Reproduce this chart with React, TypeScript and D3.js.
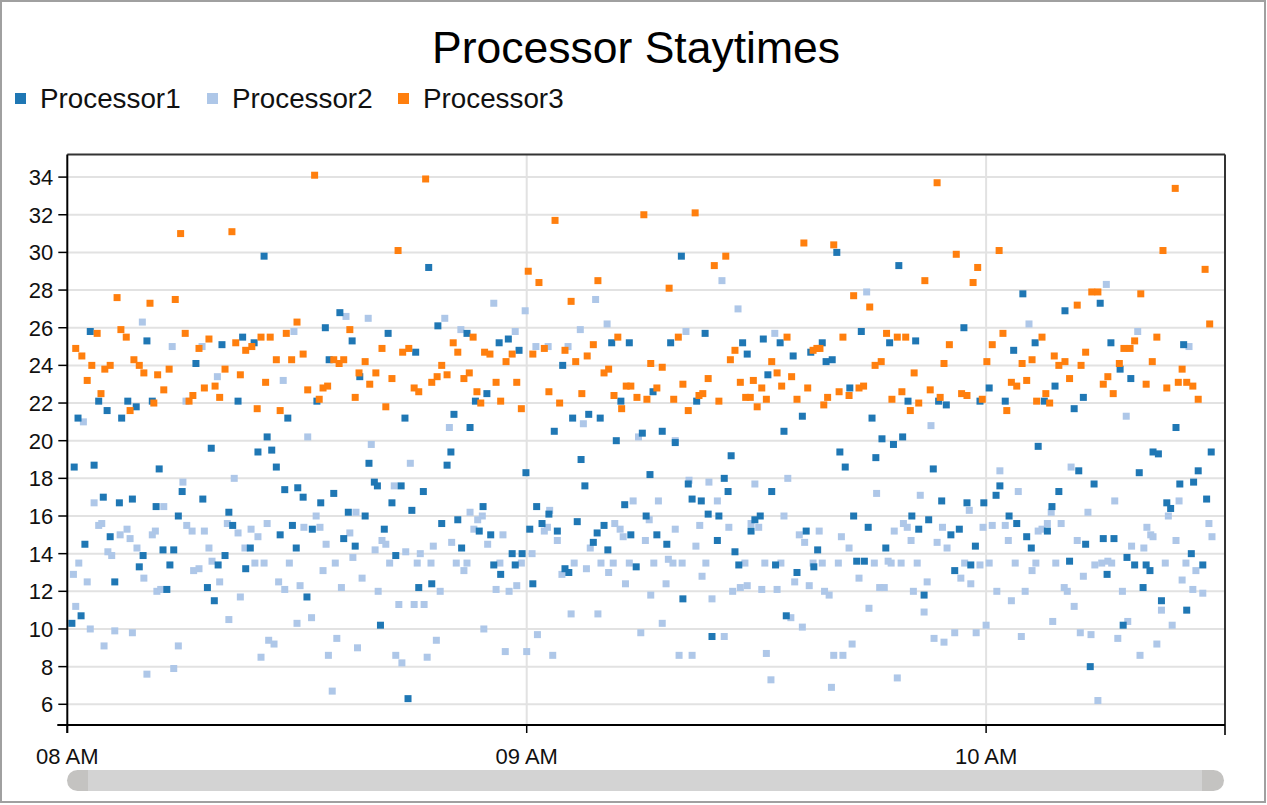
import React from 'react';
import * as d3 from 'd3';

// minutes after 08:00, staytime
const processor1: [number, number][] = [
  [0.6,10.3],[0.9,18.6],[1.4,21.2],[1.8,10.7],[2.3,14.5],[3.0,25.8],[3.5,18.7],[4.1,22.1],[4.7,17.0],[5.2,21.6],
  [5.6,14.9],[6.2,12.5],[6.8,16.7],[7.1,21.2],[7.9,22.1],[8.5,16.9],[9.0,21.8],[9.4,13.3],[9.9,13.9],[10.4,25.3],
  [11.1,22.1],[11.6,16.5],[12.0,18.5],[12.5,14.2],[13.0,12.1],[13.4,13.4],[13.9,14.2],[14.5,16.0],[15.0,17.3],[16.8,24.1],
  [17.7,16.9],[18.3,12.2],[18.8,19.6],[19.2,11.5],[19.7,13.4],[20.2,25.1],[20.6,13.9],[21.1,16.2],[21.6,15.5],[22.3,22.1],
  [22.9,25.5],[23.3,13.2],[23.9,14.3],[24.4,25.2],[24.9,19.4],[25.7,29.8],[26.1,20.2],[26.7,19.5],[27.3,18.6],[27.8,15.0],
  [28.4,17.4],[28.8,21.2],[29.4,15.5],[29.9,14.3],[30.1,17.5],[30.8,17.0],[31.3,11.7],[32.0,15.3],[32.6,22.1],[33.1,16.7],
  [33.7,26.0],[34.2,24.3],[34.8,17.2],[35.6,26.8],[36.1,14.8],[36.7,16.2],[37.2,25.3],[37.6,14.4],[38.2,23.4],[38.9,16.0],
  [39.4,18.8],[40.1,17.8],[40.5,17.6],[40.9,10.2],[41.4,15.3],[41.9,25.7],[42.4,16.7],[42.9,13.9],[43.6,17.6],[44.1,21.2],
  [44.5,6.3],[45.0,16.3],[45.5,24.7],[45.9,12.2],[46.5,17.3],[47.2,29.2],[47.6,12.4],[48.4,26.1],[48.9,15.6],[49.6,18.7],
  [50.1,19.4],[50.5,21.4],[51.0,15.8],[51.5,14.3],[52.2,25.7],[52.6,20.7],[53.3,22.1],[53.8,15.2],[54.3,16.5],[54.8,22.5],
  [55.3,15.0],[55.7,13.4],[56.4,25.2],[56.6,12.9],[57.6,25.4],[58.1,14.0],[58.5,13.4],[59.0,24.8],[59.4,14.0],[59.9,18.3],
  [60.4,15.3],[60.8,12.4],[61.3,16.5],[62.0,15.6],[62.9,16.1],[63.6,20.5],[64.0,15.2],[64.7,24.0],[65.0,13.2],[65.5,13.0],
  [66.0,21.2],[66.6,15.7],[67.1,19.0],[67.6,17.6],[68.1,21.4],[68.7,14.6],[69.2,15.1],[69.6,21.2],[70.1,15.5],[70.6,14.2],
  [71.1,25.2],[71.7,20.0],[72.3,22.1],[72.8,16.6],[73.4,25.2],[73.6,15.0],[74.3,13.3],[75.1,20.4],[75.6,16.0],[76.1,18.2],
  [76.5,22.6],[77.0,15.0],[77.7,20.5],[78.3,14.5],[78.8,25.2],[79.4,19.9],[80.2,29.8],[80.4,11.6],[81.1,17.7],[81.6,16.9],
  [82.2,22.1],[82.8,16.8],[83.3,25.7],[83.7,16.1],[84.2,9.6],[84.9,14.7],[85.1,16.0],[85.8,18.0],[86.3,17.3],[86.7,19.2],
  [87.2,14.1],[87.7,13.4],[88.2,25.2],[88.8,24.6],[89.3,15.2],[89.8,15.8],[90.5,16.0],[90.9,25.4],[91.5,23.5],[92.0,17.3],
  [92.5,13.4],[93.1,25.2],[93.6,20.5],[93.9,10.7],[94.8,24.5],[95.3,13.0],[96.0,21.3],[96.5,15.2],[97.1,24.7],[97.5,13.3],
  [98.0,14.2],[98.6,25.2],[99.1,24.2],[99.9,24.3],[100.5,30.0],[100.9,19.4],[101.6,18.6],[102.2,22.8],[102.7,16.0],[103.1,13.6],
  [103.7,25.8],[104.1,13.6],[104.6,15.4],[105.1,21.2],[105.6,19.1],[106.4,20.1],[106.9,14.3],[107.4,25.2],[107.9,19.8],[108.6,29.3],
  [109.1,20.2],[109.8,22.1],[110.3,16.0],[110.8,25.3],[111.2,15.3],[111.9,11.8],[112.5,15.8],[113.1,18.5],[113.8,22.1],[114.2,16.8],
  [114.8,21.9],[115.4,15.0],[115.9,13.1],[116.5,15.3],[117.1,26.0],[117.5,16.7],[118.0,13.4],[118.6,14.4],[119.2,22.1],[119.7,16.7],
  [120.4,22.8],[121.3,17.1],[121.8,17.6],[122.5,22.1],[123.0,16.0],[123.6,24.8],[124.0,15.6],[124.8,27.8],[125.3,14.9],[125.9,14.3],
  [126.4,25.2],[126.8,19.7],[127.6,22.1],[128.0,15.2],[128.6,16.5],[129.0,22.9],[129.5,17.3],[130.3,26.9],[130.9,13.6],[131.5,21.7],
  [132.1,18.4],[132.7,22.3],[133.0,14.5],[133.6,8.0],[134.1,17.7],[134.9,27.3],[135.3,14.8],[135.8,12.9],[136.3,25.2],[136.7,14.8],
  [137.5,23.8],[137.9,10.2],[138.4,13.8],[138.9,23.3],[139.4,13.4],[140.0,18.3],[140.5,12.2],[140.9,13.4],[141.4,13.1],[141.8,19.4],
  [142.5,19.3],[142.9,11.5],[143.6,16.7],[144.1,16.4],[144.8,20.7],[145.3,17.7],[145.8,25.1],[146.2,11.0],[146.8,14.0],[147.1,17.8],
  [147.7,18.4],[148.3,13.4],[148.8,16.9],[149.4,19.4]
];

const processor2: [number, number][] = [
  [0.8,12.9],[1.1,11.2],[1.5,13.5],[2.1,21.0],[2.6,12.5],[3.0,10.0],[3.5,16.7],[4.1,15.5],[4.5,15.6],[4.8,9.1],
  [5.3,14.1],[5.8,13.9],[6.2,9.9],[6.9,15.0],[7.8,15.3],[8.2,14.8],[8.5,9.8],[9.1,14.3],[9.8,26.3],[10.0,12.7],
  [10.4,7.6],[11.1,15.0],[11.5,15.2],[11.7,12.0],[12.2,12.1],[12.6,16.5],[13.7,25.0],[13.9,7.9],[14.5,9.1],[15.1,17.8],
  [15.5,22.1],[15.6,15.5],[16.3,15.2],[16.5,13.1],[17.2,13.2],[17.6,25.0],[17.9,15.2],[18.5,14.3],[18.9,13.6],[19.6,23.4],
  [19.9,12.5],[20.9,15.6],[21.1,10.5],[21.8,18.0],[22.3,15.1],[22.6,11.7],[23.2,14.3],[24.0,15.3],[24.5,13.5],[24.9,14.9],
  [25.3,8.5],[25.7,13.5],[26.1,15.6],[26.3,9.4],[27.0,9.2],[27.6,12.5],[28.2,23.2],[28.4,12.1],[29.0,13.5],[29.6,25.8],
  [30.0,10.3],[30.4,12.3],[30.9,15.4],[31.4,20.2],[31.9,10.6],[32.5,16.0],[33.0,15.4],[33.4,13.1],[33.8,14.5],[34.1,8.6],
  [34.6,6.7],[35.0,13.5],[35.2,9.5],[35.8,12.2],[36.4,26.6],[36.9,15.1],[37.3,13.8],[37.7,16.2],[37.9,9.0],[38.5,12.7],
  [39.3,26.5],[39.7,19.8],[40.2,14.2],[40.6,12.0],[41.1,14.7],[41.6,14.5],[42.1,13.5],[42.7,17.6],[42.9,8.6],[43.3,11.3],
  [43.7,8.2],[44.2,14.1],[44.8,18.8],[45.3,11.3],[45.7,13.5],[46.1,14.0],[46.6,11.3],[47.0,8.5],[47.5,13.5],[47.8,14.4],
  [48.2,9.4],[48.7,12.0],[49.3,26.5],[49.9,20.7],[50.2,14.6],[50.8,13.5],[51.4,25.9],[51.8,13.1],[52.2,13.5],[52.6,16.2],
  [53.1,15.3],[53.6,15.8],[54.2,16.0],[54.4,10.0],[54.9,14.5],[55.7,27.3],[56.0,12.1],[56.5,13.5],[56.9,15.0],[57.2,8.8],
  [57.7,12.0],[58.5,25.8],[58.7,12.3],[59.3,13.5],[59.8,26.9],[60.0,8.8],[60.7,14.0],[61.2,25.0],[61.4,9.7],[62.3,15.2],
  [62.7,15.4],[62.8,25.0],[63.0,16.3],[63.4,8.6],[64.0,14.7],[64.6,12.9],[65.4,25.0],[65.8,10.8],[66.2,13.5],[67.0,25.9],
  [67.4,20.9],[67.8,13.2],[68.3,14.3],[69.0,27.5],[69.3,10.8],[69.7,13.5],[70.5,26.2],[70.7,13.0],[71.3,13.5],[71.5,15.6],
  [72.2,15.3],[72.6,14.9],[72.9,12.4],[73.4,13.5],[73.9,16.8],[74.6,20.2],[74.9,9.8],[75.5,14.7],[76.0,15.8],[76.2,11.8],
  [76.6,13.5],[77.2,16.8],[77.7,10.3],[78.2,12.4],[78.5,13.7],[79.1,13.5],[79.4,20.0],[79.4,15.3],[79.9,8.6],[80.3,13.5],
  [80.8,25.8],[81.2,17.9],[81.6,8.6],[82.1,14.4],[82.6,15.5],[82.9,12.8],[83.4,13.5],[83.8,17.8],[84.2,11.6],[84.9,16.8],
  [85.5,28.5],[85.8,9.6],[86.4,15.4],[86.9,12.0],[87.6,27.0],[87.9,12.2],[88.5,13.5],[88.8,12.3],[89.3,15.6],[89.8,17.7],
  [90.3,15.4],[90.7,12.1],[91.1,13.5],[91.3,8.7],[91.9,7.3],[92.4,25.7],[92.7,12.1],[93.2,13.5],[93.6,16.0],[94.1,18.0],
  [94.5,10.6],[95.0,12.5],[95.6,15.0],[96.0,10.1],[96.3,14.6],[96.9,12.3],[97.4,13.5],[98.2,15.2],[98.6,13.5],[98.9,12.0],
  [99.5,11.8],[99.8,6.9],[100.1,8.6],[100.7,13.5],[101.1,14.9],[101.3,8.6],[102.1,14.3],[102.5,9.2],[103.4,12.7],[104.4,27.9],
  [104.7,11.1],[105.4,13.5],[105.7,17.2],[106.1,12.2],[106.7,12.2],[107.2,13.6],[107.6,13.5],[108.0,15.2],[108.4,7.4],[108.9,13.5],
  [109.2,15.6],[109.7,15.4],[110.2,14.7],[110.5,12.0],[111.0,13.5],[111.4,17.1],[111.9,10.9],[112.3,12.5],[112.8,20.8],[113.2,9.5],
  [113.6,14.6],[114.3,15.4],[114.5,9.3],[114.9,14.3],[115.9,9.8],[116.7,12.7],[117.2,13.5],[117.8,16.3],[118.0,12.4],[118.7,9.8],
  [119.2,13.4],[119.6,15.4],[120.0,10.2],[120.4,13.5],[120.8,15.5],[121.4,12.0],[121.8,18.4],[122.5,15.5],[122.9,14.7],[123.3,11.5],
  [123.8,13.5],[124.2,17.3],[124.6,9.6],[125.1,12.0],[125.6,26.2],[126.0,13.1],[126.5,13.5],[126.8,15.2],[127.3,15.3],[128.0,15.6],
  [128.5,16.2],[128.7,10.4],[129.1,13.5],[129.8,15.6],[130.2,12.2],[130.6,12.0],[131.1,18.6],[131.5,11.2],[131.9,14.7],[132.3,9.8],
  [132.7,12.8],[133.3,16.2],[133.7,9.7],[134.2,13.4],[134.6,6.2],[135.1,13.5],[135.7,28.3],[135.9,13.6],[136.4,13.5],[136.8,16.8],
  [137.2,9.5],[137.8,12.0],[138.3,21.3],[138.5,10.4],[139.0,14.4],[139.8,25.8],[140.1,8.6],[140.6,14.3],[141.0,15.4],[141.5,15.0],
  [141.8,14.9],[142.3,9.2],[142.9,11.0],[143.4,13.5],[143.8,16.0],[144.3,10.2],[144.8,14.7],[145.2,16.8],[145.6,12.6],[146.1,13.5],
  [146.5,25.0],[147.0,12.1],[147.4,13.1],[148.3,11.9],[149.1,15.6],[149.5,14.9]
];

const processor3: [number, number][] = [
  [1.1,24.9],[1.9,24.5],[2.6,23.2],[3.2,24.0],[3.9,25.7],[4.4,22.5],[4.9,23.8],[5.6,24.0],[6.5,27.6],[7.0,25.9],
  [7.7,25.5],[8.2,21.6],[8.7,24.3],[9.4,24.0],[10.0,23.6],[10.8,27.3],[11.3,22.0],[11.8,23.5],[12.6,22.7],[13.3,23.8],
  [14.1,27.5],[14.8,31.0],[15.4,25.7],[15.9,22.1],[16.4,22.4],[17.2,24.9],[17.9,22.8],[18.5,25.4],[19.3,22.9],[19.9,22.3],
  [20.6,23.8],[21.5,31.1],[22.0,25.2],[22.6,23.5],[23.3,24.8],[24.1,25.0],[24.8,21.7],[25.3,25.5],[25.9,23.1],[26.5,25.5],
  [27.3,24.3],[27.8,21.6],[28.6,25.7],[29.3,24.3],[30.0,26.3],[30.8,24.6],[31.4,22.7],[32.3,34.1],[32.9,22.2],[33.4,22.8],
  [34.0,22.9],[34.8,24.3],[35.5,24.1],[36.1,24.3],[36.9,25.9],[37.6,22.3],[38.1,23.6],[38.9,24.2],[39.5,23.0],[40.3,23.6],
  [41.1,24.9],[41.6,21.8],[42.4,23.3],[43.2,30.1],[43.8,24.7],[44.6,24.9],[45.3,22.8],[45.9,22.6],[46.8,33.9],[47.6,23.1],
  [48.3,23.4],[48.9,24.0],[49.6,23.5],[50.4,25.2],[51.0,24.7],[51.8,23.3],[52.5,23.6],[53.0,25.5],[53.5,22.6],[54.0,22.0],
  [54.5,24.7],[55.2,24.6],[56.0,23.1],[56.6,22.1],[57.3,24.2],[58.1,24.6],[58.7,23.1],[59.3,21.7],[60.2,29.0],[60.8,24.6],
  [61.6,28.4],[62.3,24.9],[62.9,22.6],[63.7,31.7],[64.3,22.0],[65.0,24.8],[65.8,27.4],[66.4,24.2],[67.2,22.5],[67.9,24.5],
  [68.7,25.1],[69.3,28.5],[70.1,23.6],[70.7,23.8],[71.4,22.4],[71.9,25.5],[72.4,21.7],[73.0,22.9],[73.6,22.9],[74.4,22.3],
  [75.3,32.0],[75.7,22.2],[76.2,24.1],[77.0,22.8],[77.7,23.9],[78.6,28.1],[79.2,22.2],[79.8,25.5],[80.4,23.0],[81.1,21.6],
  [82.0,32.1],[82.5,22.4],[83.0,22.5],[83.7,23.3],[84.5,29.3],[85.1,22.1],[86.0,29.8],[86.6,24.3],[87.2,24.8],[87.9,23.1],
  [88.6,22.3],[89.2,22.3],[89.6,23.2],[90.1,21.8],[90.7,22.8],[91.3,22.2],[92.0,24.2],[92.7,23.6],[93.3,22.9],[94.0,25.5],
  [94.6,23.4],[95.3,22.2],[96.2,30.5],[96.7,22.8],[97.4,24.8],[97.9,24.9],[98.3,24.9],[98.8,21.9],[99.3,22.3],[100.1,30.4],
  [100.8,22.6],[101.3,25.5],[102.1,22.4],[102.7,27.7],[103.4,22.8],[104.0,22.9],[104.8,27.1],[105.5,24.0],[106.3,24.2],[107.0,25.7],
  [107.7,22.2],[108.4,25.5],[109.0,22.6],[109.5,25.5],[110.1,21.6],[110.6,23.6],[111.2,22.0],[112.0,28.5],[112.7,22.7],[113.6,33.7],
  [114.0,22.3],[114.5,24.1],[115.2,25.1],[116.1,29.9],[116.8,22.5],[117.5,22.4],[118.3,28.4],[118.9,29.2],[119.5,22.2],[120.1,24.2],
  [120.8,25.1],[121.7,30.1],[122.2,25.7],[122.7,21.6],[123.3,23.1],[124.0,22.9],[124.7,24.1],[125.3,23.2],[126.0,24.3],[126.6,22.1],
  [127.3,25.5],[127.8,22.5],[128.3,22.0],[128.9,24.5],[129.5,24.0],[130.3,24.2],[130.9,23.3],[131.9,27.2],[132.4,24.0],[133.0,24.7],
  [133.8,27.9],[134.6,27.9],[135.3,23.0],[135.9,23.4],[136.6,22.5],[137.4,24.1],[138.0,24.9],[138.8,24.9],[139.4,25.3],[140.2,27.8],
  [140.9,23.0],[141.7,24.2],[142.3,25.5],[143.1,30.1],[143.6,22.8],[144.7,33.4],[145.1,23.1],[145.6,23.8],[146.2,23.1],[147.0,22.9],
  [147.7,22.2],[148.6,29.1],[149.2,26.2]
];

const seriesNames = ['Processor1', 'Processor2', 'Processor3'];
const seriesColors = ['#1f77b4', '#aec7e8', '#ff7f0e'];
const yTicks = [6, 8, 10, 12, 14, 16, 18, 20, 22, 24, 26, 28, 30, 32, 34];
const title = 'Processor Staytimes';

const W = 1267;
const H = 805;
const font = '"Liberation Sans", Arial, sans-serif';

const day = (m: number) => new Date(2020, 0, 1, 8, 0, Math.round(m * 60));

export default function App() {
  const x = d3.scaleTime().domain([day(0), day(151.2)]).range([67.3, 1225]);
  const y = d3.scaleLinear().domain([4.9, 35.2]).range([725, 154.5]);
  const [x0, x1] = x.range();
  const [yb, yt] = y.range();
  const hours = x.ticks(d3.timeHour.every(1) as d3.TimeInterval);
  const fmt = d3.timeFormat('%I %p');
  const sq = 7;

  const series = [processor1, processor2, processor3];
  const drawOrder = [1, 0, 2];
  const legendX = [15, 207, 398];

  return (
    <svg width={W} height={H} style={{ position: 'absolute', left: 0, top: 0, background: '#fff' }} fontFamily={font}>
      <rect x={1} y={1} width={W - 3} height={H - 4} fill="#fff" stroke="#a0a0a0" strokeWidth={2} />
      <text x={636} y={63} textAnchor="middle" fontSize={44.5} fill="#000">{title}</text>

      {seriesNames.map((n, i) => (
        <g key={n}>
          <rect x={legendX[i]} y={93} width={11} height={11} fill={seriesColors[i]} />
          <text x={legendX[i] + 25} y={108} fontSize={27.8} fill="#111">{n}</text>
        </g>
      ))}

      {yTicks.map(t => (
        <line key={'g' + t} x1={x0} x2={x1} y1={y(t)} y2={y(t)} stroke="#e2e2e2" strokeWidth={2} />
      ))}
      {hours.slice(1).map(h => (
        <line key={'v' + +h} x1={x(h)} x2={x(h)} y1={yt} y2={yb} stroke="#e2e2e2" strokeWidth={2} />
      ))}

      {drawOrder.map(si => (
        <g key={'s' + si} fill={seriesColors[si]}>
          {series[si].map(([m, v], k) => (
            <rect key={k} x={x(day(m)) - sq / 2} y={y(v) - sq / 2} width={sq} height={sq} />
          ))}
        </g>
      ))}

      <line x1={x0} x2={x1} y1={yt} y2={yt} stroke="#333" strokeWidth={2} />
      <line x1={x1} x2={x1} y1={yt} y2={yb + 10} stroke="#333" strokeWidth={2} />
      <line x1={x0} x2={x0} y1={yt} y2={yb + 8} stroke="#000" strokeWidth={2} />
      <line x1={x0 - 10} x2={x1} y1={yb} y2={yb} stroke="#000" strokeWidth={2} />

      {yTicks.map(t => (
        <g key={'t' + t}>
          <line x1={x0 - 9} x2={x0} y1={y(t)} y2={y(t)} stroke="#000" strokeWidth={1.5} />
          <text x={x0 - 14} y={y(t) + 8} textAnchor="end" fontSize={22} fill="#111">{t}</text>
        </g>
      ))}
      {hours.map(h => (
        <g key={'x' + +h}>
          <line x1={x(h)} x2={x(h)} y1={yb} y2={yb + 8} stroke="#000" strokeWidth={1.5} />
          <text x={x(h)} y={764} textAnchor="middle" fontSize={22} fill="#111">{fmt(h)}</text>
        </g>
      ))}

      <rect x={67} y={770} width={1157} height={21} rx={10.5} fill="#c4c3c1" />
      <rect x={88} y={770} width={1114} height={21} fill="#d3d3d3" />
    </svg>
  );
}
